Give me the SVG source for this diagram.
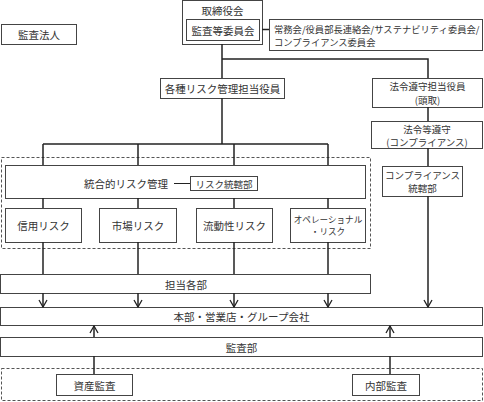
<svg xmlns="http://www.w3.org/2000/svg" width="484" height="402" viewBox="0 0 484 402">
<style>
.box{fill:#fff;stroke:#444;stroke-width:1}
.dash{fill:none;stroke:#555;stroke-width:1;stroke-dasharray:3 2}
.ln{stroke:#222;stroke-width:1.5;fill:none}
.t{font-family:"Noto Sans CJK JP","Noto Sans CJK SC",sans-serif;font-size:10.5px;fill:#333;text-anchor:middle;dominant-baseline:central}
.s{font-size:9.3px}
.m{font-size:9.5px}
.l{text-anchor:start}
</style>
<defs>
<marker id="arr" markerUnits="userSpaceOnUse" markerWidth="10" markerHeight="10" viewBox="-9 -5 10 10" refX="0" refY="0" orient="auto">
<path d="M-7,-4 L0,0 L-7,4" fill="none" stroke="#222" stroke-width="1.3"/>
</marker>
</defs>

<g id="dashed-groups">
<rect class="dash" x="1.5" y="157.5" width="369" height="91"/>
<rect class="dash" x="1.5" y="368.5" width="481" height="32"/>
</g>

<g id="kansa-houjin">
<rect class="box" x="1.5" y="24.5" width="75" height="20"/>
<text class="t" x="39" y="34.5">監査法人</text>
</g>

<g id="torishimariyakukai">
<rect class="box" x="182.5" y="0.5" width="80" height="44"/>
<text class="t" x="222.5" y="10.5">取締役会</text>
</g>

<g id="kansatou-iinkai">
<rect class="box" x="186.5" y="19.5" width="73" height="21"/>
<text class="t" x="223" y="30">監査等委員会</text>
</g>

<g id="joumukai">
<rect class="box" x="269.5" y="19.5" width="213" height="31"/>
<text class="t s l" x="274" y="29">常務会/役員部長連絡会/サステナビリティ委員会/</text>
<text class="t s l" x="274" y="42">コンプライアンス委員会</text>
</g>

<g id="kakushu-risk">
<rect class="box" x="160.5" y="78.5" width="124" height="20"/>
<text class="t" x="222.5" y="88.5">各種リスク管理担当役員</text>
</g>

<g id="hourei-tantou">
<rect class="box" x="372.5" y="78.5" width="110" height="29"/>
<text class="t m" x="427.5" y="86">法令遵守担当役員</text>
<text class="t m" x="427.5" y="99.5">(頭取)</text>
</g>

<g id="hourei-junshu">
<rect class="box" x="371.5" y="121.5" width="111" height="27"/>
<text class="t m" x="427" y="128.5">法令等遵守</text>
<text class="t m" x="427" y="142">(コンプライアンス)</text>
</g>

<g id="compliance-toukatsu">
<rect class="box" x="382.5" y="166.5" width="80" height="30"/>
<text class="t m" x="422.5" y="174.5">コンプライアンス</text>
<text class="t m" x="422.5" y="188">統轄部</text>
</g>

<g id="tougouteki-risk">
<rect class="box" x="5.5" y="165.5" width="360" height="33"/>
<text class="t" x="126" y="183">統合的リスク管理</text>
</g>

<g id="risk-toukatsu">
<rect class="box" x="190.5" y="176.5" width="67" height="14"/>
<text class="t m" x="224" y="183.5">リスク統轄部</text>
</g>

<g id="shinyou-risk">
<rect class="box" x="5.5" y="208.5" width="76" height="34"/>
<text class="t" x="43.5" y="225.5">信用リスク</text>
</g>

<g id="shijou-risk">
<rect class="box" x="99.5" y="208.5" width="77" height="34"/>
<text class="t" x="138" y="225.5">市場リスク</text>
</g>

<g id="ryuudousei-risk">
<rect class="box" x="196.5" y="208.5" width="76" height="34"/>
<text class="t" x="234.5" y="225.5">流動性リスク</text>
</g>

<g id="operational-risk">
<rect class="box" x="290.5" y="208.5" width="75" height="34"/>
<text class="t" x="328" y="218.5" style="font-size:8.6px">オペレーショナル</text>
<text class="t" x="328" y="231" style="font-size:8.6px">・リスク</text>
</g>

<g id="tantou-kakubu">
<rect class="box" x="0.5" y="274.5" width="370" height="19"/>
<text class="t" x="186" y="284">担当各部</text>
</g>

<g id="honbu">
<rect class="box" x="0.5" y="307.5" width="482" height="18"/>
<text class="t" x="241.5" y="316.5">本部・営業店・グループ会社</text>
</g>

<g id="kansabu">
<rect class="box" x="0.5" y="337.5" width="482" height="19"/>
<text class="t" x="241.5" y="347">監査部</text>
</g>

<g id="shisan-kansa">
<rect class="box" x="56.5" y="374.5" width="76" height="21"/>
<text class="t" x="94.5" y="385">資産監査</text>
</g>

<g id="naibu-kansa">
<rect class="box" x="352.5" y="374.5" width="67" height="21"/>
<text class="t" x="386" y="385">内部監査</text>
</g>

<g id="connectors">
<line class="ln" x1="262" y1="29.5" x2="269" y2="29.5"/>
<line class="ln" x1="222" y1="44" x2="222" y2="78"/>
<polyline class="ln" points="222,59 428,59 428,78"/>
<line class="ln" x1="428" y1="107" x2="428" y2="121"/>
<line class="ln" x1="428" y1="148" x2="428" y2="166"/>
<line class="ln" x1="428" y1="196" x2="428" y2="307" marker-end="url(#arr)"/>
<line class="ln" x1="222" y1="98" x2="222" y2="144"/>
<line class="ln" x1="43" y1="144" x2="328" y2="144"/>
<line class="ln" x1="43" y1="144" x2="43" y2="165"/>
<line class="ln" x1="138" y1="144" x2="138" y2="165"/>
<line class="ln" x1="234" y1="144" x2="234" y2="165"/>
<line class="ln" x1="328" y1="144" x2="328" y2="165"/>
<line class="ln" x1="43" y1="198" x2="43" y2="208"/>
<line class="ln" x1="138" y1="198" x2="138" y2="208"/>
<line class="ln" x1="234" y1="198" x2="234" y2="208"/>
<line class="ln" x1="328" y1="198" x2="328" y2="208"/>
<line class="ln" x1="43" y1="242" x2="43" y2="274"/>
<line class="ln" x1="138" y1="242" x2="138" y2="274"/>
<line class="ln" x1="234" y1="242" x2="234" y2="274"/>
<line class="ln" x1="328" y1="242" x2="328" y2="274"/>
<line class="ln" x1="43" y1="293" x2="43" y2="307" marker-end="url(#arr)"/>
<line class="ln" x1="138" y1="293" x2="138" y2="307" marker-end="url(#arr)"/>
<line class="ln" x1="234" y1="293" x2="234" y2="307" marker-end="url(#arr)"/>
<line class="ln" x1="328" y1="293" x2="328" y2="307" marker-end="url(#arr)"/>
<line class="ln" x1="94" y1="337" x2="94" y2="326" marker-end="url(#arr)"/>
<line class="ln" x1="390" y1="337" x2="390" y2="326" marker-end="url(#arr)"/>
<line class="ln" x1="94" y1="356" x2="94" y2="374"/>
<line class="ln" x1="390" y1="356" x2="390" y2="374"/>
<line class="ln" x1="174" y1="183.5" x2="190" y2="183.5" style="stroke-width:1"/>
</g>
</svg>
